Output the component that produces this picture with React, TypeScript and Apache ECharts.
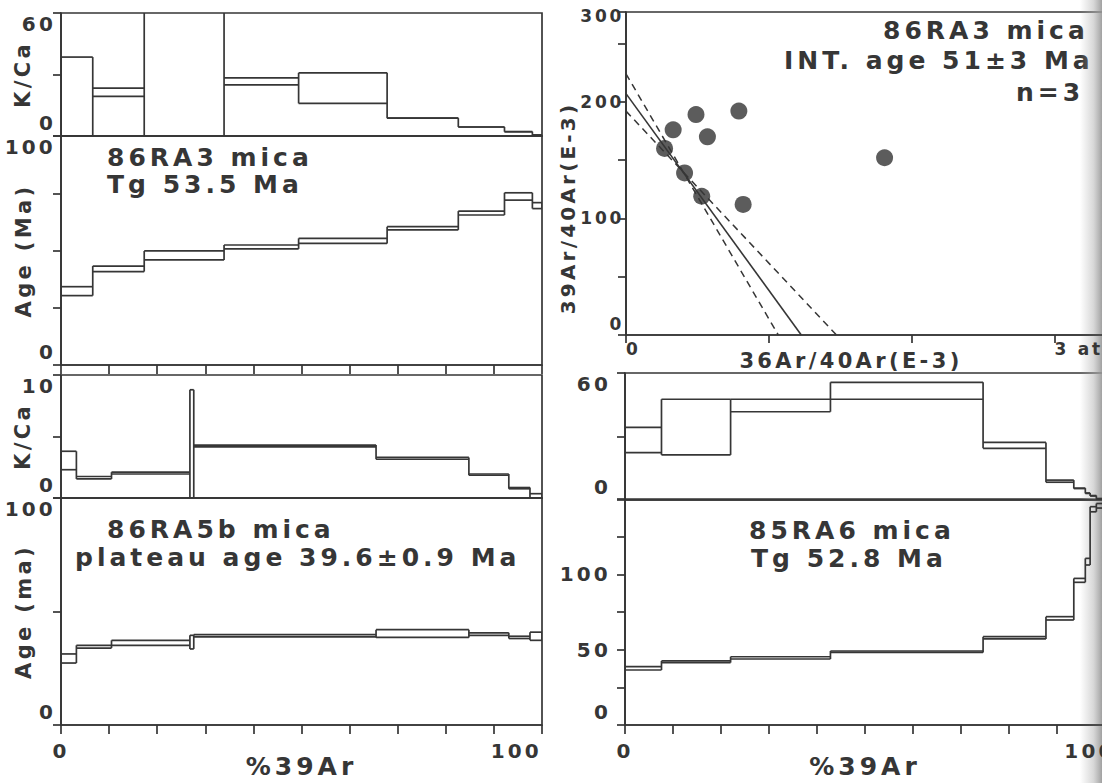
import React, { useEffect, useRef } from "react";
import * as echarts from "echarts";

// ---------------- Data ----------------
// 86RA3 mica age spectrum (top-left): step boundaries in cumulative %39Ar
const stepsA = [0, 6.6, 17.3, 33.9, 49.4, 67.8, 82.6, 92.2, 98.0, 100];
const kcaLoA = [0, 19.3, -5, 24.9, 15.9, 8.7, 4.4, 2.1, 0.5];
const kcaHiA = [38.5, 23.4, 75, 28.4, 30.8, 8.7, 4.4, 2.1, 0.5];
const ageLoA = [30.3, 40.8, 45.9, 50.7, 53.1, 59.0, 65.5, 72.0, 68.3];
const ageHiA = [34.2, 43.2, 49.8, 52.4, 55.3, 60.4, 67.2, 75.2, 70.9];

// 86RA5b mica age spectrum (bottom-left)
const stepsB = [0, 3.2, 10.5, 26.8, 27.6, 65.5, 84.8, 93.1, 97.5, 100];
const kcaLoB = [2.3, 1.55, 1.95, 0, 4.15, 3.15, 1.85, 0.75, 0];
const kcaHiB = [3.8, 1.75, 2.1, 8.8, 4.3, 3.3, 1.95, 0.85, 0.35];
const ageLoB = [27.3, 33.9, 35.1, 33.5, 38.8, 38.6, 39.5, 38.1, 37.3];
const ageHiB = [31.3, 35.1, 37.3, 39.5, 39.8, 42.0, 40.6, 39.1, 40.9];

// 86RA3 mica inverse isochron (top-right)
const isoX = [0.27, 0.33, 0.41, 0.49, 0.53, 0.57, 0.79, 0.82, 1.81];
const isoY = [160, 176, 139, 189, 119, 170, 192, 112, 152];
const fitLine = [[0, 207], [1.227, 0]];
const envSteep = [[0, 224], [1.066, 0]];
const envShallow = [[0, 192], [1.473, 0]];

// 85RA6 mica age spectrum (bottom-right)
const stepsD = [0, 7.6, 22.0, 42.8, 74.6, 87.7, 93.5, 95.9, 96.9, 98.2, 100];
const kcaLoD = [22.4, 21.3, 41.7, 47.6, 24.4, 8.4, 5.4, 3.1, 1.9, 0.3];
const kcaHiD = [34.3, 47.6, 47.6, 55.6, 27.2, 9.4, 5.6, 3.3, 2.1, 0.7];
const ageLoD = [36.5, 41.4, 43.8, 48.2, 57.1, 69.7, 94.7, 106.2, 141.5, 144.0];
const ageHiD = [38.7, 42.5, 45.3, 49.1, 58.6, 71.9, 97.3, 110.6, 144.9, 147.0];

// Tick labels that are printed
const pctLabels = [0, 100];
const kcaLabels60 = [0, 60];
const kcaLabels10 = [0, 10];
const ageLabels100 = [0, 100];
const isoYLabels = [0, 100, 200];
const ageLabelsD = [0, 50, 100];

const INK = "#363636";
const FONT = '"DejaVu Sans", "Liberation Sans", sans-serif';
const W = "bold";

function spectrum(idx: number, bounds: number[], lo: number[], hi: number[]) {
  const data = lo.map((l, i) => [bounds[i], bounds[i + 1], l, hi[i]]);
  return {
    type: "custom",
    xAxisIndex: idx,
    yAxisIndex: idx,
    clip: true,
    silent: true,
    encode: { x: [0, 1], y: [2, 3] },
    data,
    renderItem: (params: any, api: any) => {
      const i = params.dataIndex;
      const x0 = api.value(0);
      const x1 = api.value(1);
      const l = api.value(2);
      const h = api.value(3);
      const pl = i > 0 ? lo[i - 1] : l;
      const ph = i > 0 ? hi[i - 1] : h;
      const vmin = Math.min(l, h, pl, ph);
      const vmax = Math.max(l, h, pl, ph);
      const seg = (a: number[], b: number[]) => {
        const p = api.coord(a);
        const q = api.coord(b);
        return {
          type: "line",
          shape: { x1: p[0], y1: p[1], x2: q[0], y2: q[1] },
          style: { stroke: INK, lineWidth: 1.7 },
        };
      };
      const children: any[] = [
        seg([x0, l], [x1, l]),
        seg([x0, h], [x1, h]),
        seg([x0, vmin], [x0, vmax]),
      ];
      if (i === lo.length - 1) children.push(seg([x1, l], [x1, h]));
      return { type: "group", children };
    },
  };
}

const lineStyle = { color: INK, width: 1.7 };
const txt = (size: number) => ({ color: INK, fontFamily: FONT, fontSize: size, fontWeight: W });

function xAxis(gridIndex: number, max: number, opts: any = {}) {
  return {
    type: "value",
    gridIndex,
    min: 0,
    max,
    nameMoveOverlap: false,
    splitLine: { show: false },
    axisLine: { show: true, onZero: false, lineStyle },
    axisTick: { show: false, inside: false, length: 8, lineStyle },
    axisLabel: { show: false, ...txt(20) },
    ...opts,
  };
}

// y-axis labels: min label lifted, max label dropped, as in the reference
function yLabel(shown: number[], min: number, max: number, margin: number, size = 20) {
  return {
    ...txt(size),
    margin,
    verticalAlignMinLabel: "bottom",
    verticalAlignMaxLabel: "top",
    formatter: (v: number) => {
      if (!shown.includes(v)) return "";
      if (v === min) return `{lo|${v}}`;
      if (v === max) return `{hi|${v}}`;
      return String(v);
    },
    rich: {
      lo: { ...txt(size), padding: [0, 0, 3, 0] },
      hi: { ...txt(size), padding: [1, 0, 0, 0] },
    },
  };
}

function yAxis(gridIndex: number, max: number, interval: number, shown: number[], opts: any = {}, margin = 5) {
  return {
    type: "value",
    gridIndex,
    min: 0,
    max,
    interval,
    nameMoveOverlap: false,
    splitLine: { show: false },
    axisLine: { show: true, onZero: false, lineStyle },
    axisTick: { show: true, inside: false, length: 8, lineStyle },
    axisLabel: yLabel(shown, 0, max, margin),
    nameTextStyle: txt(21),
    ...opts,
  };
}

function annot(x: number, y: number, text: string, align = "left", size = 25, rotation = 0) {
  return {
    type: "text",
    x,
    y,
    rotation,
    silent: true,
    style: {
      text,
      fill: INK,
      fontFamily: FONT,
      fontSize: size,
      fontWeight: W,
      align,
      textAlign: align,
      verticalAlign: "middle",
      textVerticalAlign: "middle",
    },
  };
}

export default function App() {
  const ref = useRef<HTMLDivElement>(null);

  useEffect(() => {
    if (!ref.current) return;
    const chart = echarts.init(ref.current, undefined, { renderer: "svg" });
    const pctFmt = (v: number) => (pctLabels.includes(v) ? String(v) : "");
    const pctFmtD = (v: number) => (v === 100 ? "{r|100}" : pctLabels.includes(v) ? String(v) : "");
    const option: any = {
      animation: false,
      backgroundColor: "#ffffff",
      grid: [
        { left: 61, top: 13, width: 481, height: 123 },
        { left: 61, top: 136, width: 481, height: 229 },
        { left: 61, top: 375, width: 481, height: 123 },
        { left: 61, top: 498, width: 481, height: 227 },
        { left: 626, top: 12, width: 500, height: 323 },
        { left: 625, top: 373, width: 480, height: 127 },
        { left: 625, top: 499, width: 480, height: 226 },
      ].map((g) => ({
        ...g,
        show: true,
        containLabel: false,
        outerBoundsMode: "none",
        borderColor: INK,
        borderWidth: 1.7,
        backgroundColor: "transparent",
      })),
      xAxis: [
        xAxis(0, 100),
        xAxis(1, 100, { interval: 10, axisTick: { show: true, inside: false, length: 9, lineStyle } }),
        xAxis(2, 100),
        xAxis(3, 100, {
          interval: 10,
          axisTick: { show: true, inside: false, length: 9, lineStyle },
          axisLabel: { show: true, ...txt(20), margin: 16, alignMaxLabel: "right", formatter: pctFmt },
          name: "%39Ar",
          nameLocation: "middle",
          nameGap: 29,
          nameTextStyle: txt(25),
        }),
        xAxis(4, 3.5, {
          interval: 1,
          axisTick: { show: true, inside: false, length: 8, lineStyle },
          axisLabel: {
            show: true,
            ...txt(17),
            margin: 5,
            align: "left",
            formatter: (v: number) => (v === 0 ? "0" : v === 3 ? "3 atm" : ""),
          },
          name: "36Ar/40Ar(E-3)",
          nameLocation: "middle",
          nameGap: 15,
          nameTextStyle: { ...txt(21), padding: [0, 50, 0, 0] },
        }),
        xAxis(5, 100),
        xAxis(6, 100, {
          interval: 10,
          axisTick: { show: true, inside: false, length: 9, lineStyle },
          axisLabel: {
            show: true,
            ...txt(20),
            margin: 16,
            formatter: pctFmtD,
            rich: { r: { ...txt(20), padding: [0, 30, 0, 0] } },
          },
          name: "%39Ar",
          nameLocation: "middle",
          nameGap: 29,
          nameTextStyle: txt(25),
        }),
      ],
      yAxis: [
        yAxis(0, 60, 30, kcaLabels60, { name: "K/Ca", nameLocation: "middle", nameGap: 28 }),
        yAxis(1, 100, 25, ageLabels100, { name: "Age (Ma)", nameLocation: "middle", nameGap: 27 }),
        yAxis(2, 10, 5, kcaLabels10, { name: "K/Ca", nameLocation: "middle", nameGap: 28 }),
        yAxis(3, 100, 50, ageLabels100, { name: "Age (ma)", nameLocation: "middle", nameGap: 27 }),
        yAxis(4, 277, 50, isoYLabels, { axisLabel: yLabel(isoYLabels, 0, -1, 2, 17) }),
        yAxis(5, 60, 30, kcaLabels60, { axisLabel: yLabel(kcaLabels60, 0, 60, 14) }),
        yAxis(6, 150, 25, ageLabelsD, { axisLabel: yLabel(ageLabelsD, 0, -1, 14) }),
      ],
      series: [
        spectrum(0, stepsA, kcaLoA, kcaHiA),
        spectrum(1, stepsA, ageLoA, ageHiA),
        spectrum(2, stepsB, kcaLoB, kcaHiB),
        spectrum(3, stepsB, ageLoB, ageHiB),
        spectrum(5, stepsD, kcaLoD, kcaHiD),
        spectrum(6, stepsD, ageLoD, ageHiD),
        {
          type: "line",
          xAxisIndex: 4,
          yAxisIndex: 4,
          data: fitLine,
          symbol: "none",
          silent: true,
          lineStyle: { color: INK, width: 1.6 },
        },
        {
          type: "line",
          xAxisIndex: 4,
          yAxisIndex: 4,
          data: envSteep,
          symbol: "none",
          silent: true,
          lineStyle: { color: INK, width: 1.5, type: [7, 5] },
        },
        {
          type: "line",
          xAxisIndex: 4,
          yAxisIndex: 4,
          data: envShallow,
          symbol: "none",
          silent: true,
          lineStyle: { color: INK, width: 1.5, type: [7, 5] },
        },
        {
          type: "scatter",
          xAxisIndex: 4,
          yAxisIndex: 4,
          data: isoX.map((x, i) => [x, isoY[i]]),
          symbol: "circle",
          symbolSize: 17,
          silent: true,
          itemStyle: { color: "#333333" },
        },
      ],
      graphic: [
        annot(107, 157, "86RA3 mica"),
        annot(107, 184, "Tg 53.5 Ma"),
        annot(107, 529, "86RA5b mica"),
        annot(75, 557, "plateau age 39.6±0.9 Ma"),
        annot(883, 30, "86RA3 mica"),
        annot(784, 60, "INT. age 51±3 Ma"),
        annot(1016, 92, "n=3"),
        annot(749, 530, "85RA6 mica"),
        annot(751, 558, "Tg 52.8 Ma"),
        annot(624, 16, "300", "right", 17),
        annot(568, 208, "39Ar/40Ar(E-3)", "center", 20, Math.PI / 2),
        {
          type: "rect",
          silent: true,
          shape: { x: 1080, y: 0, width: 22, height: 783 },
          style: {
            fill: new echarts.graphic.LinearGradient(0, 0, 1, 0, [
              { offset: 0, color: "rgba(170,170,170,0)" },
              { offset: 0.6, color: "rgba(170,170,170,0.45)" },
              { offset: 1, color: "rgba(150,150,150,0.9)" },
            ]),
          },
        },
      ],
    };
    chart.setOption(option);
    return () => chart.dispose();
  }, []);

  return (
    <>
      <style>{"#chart text { letter-spacing: 0.16em; }"}</style>
      <div
        id="chart"
        ref={ref}
        style={{ position: "fixed", left: 0, top: 0, width: 1102, height: 783, background: "#fff" }}
      />
    </>
  );
}
